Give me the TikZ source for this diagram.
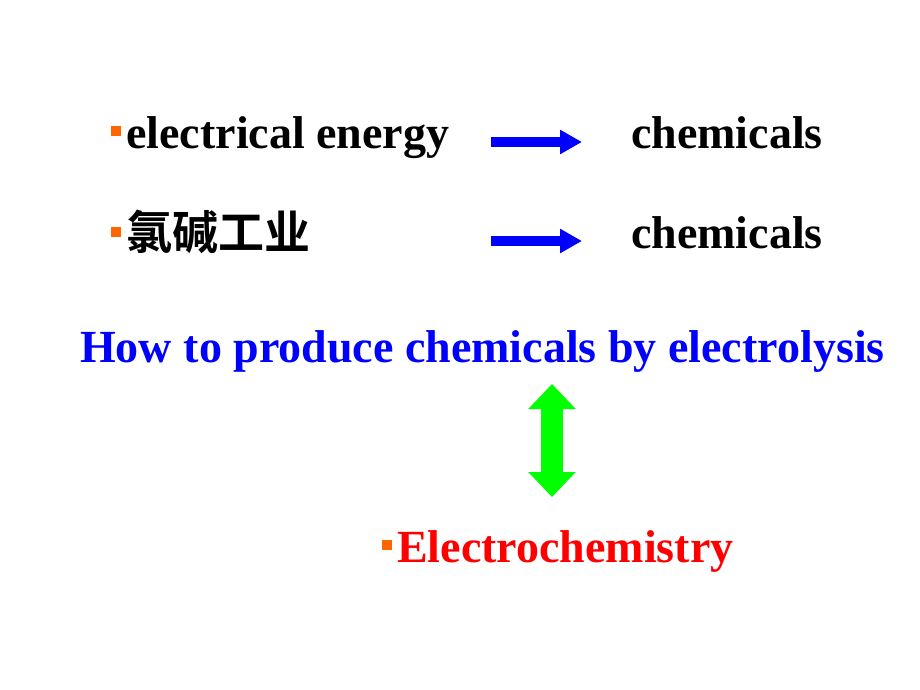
\documentclass[tikz,border=0pt]{standalone}
\usepackage{fontspec}
\usepackage{xcolor}
\usepackage{tikz}
\usetikzlibrary{arrows.meta}
\setmainfont{Liberation Serif}
\newfontfamily\cjk{Noto Sans CJK SC}[BoldFont={Noto Sans CJK SC Bold}]

\definecolor{bulletorange}{RGB}{255,102,0}
\definecolor{arrowblue}{RGB}{0,0,255}
\definecolor{arrowgreen}{RGB}{0,255,0}
\definecolor{headblue}{RGB}{0,0,255}
\definecolor{termred}{RGB}{255,0,0}

\newcommand{\sqbullet}{\textcolor{bulletorange}{\rule[12pt]{10pt}{10pt}}\hspace{5pt}}

\tikzset{
  txt/.style={inner sep=0pt, anchor=base west, font=\fontsize{46}{50}\selectfont\bfseries},
  flow/.style={arrowblue, line width=10pt, -{Triangle[length=22pt,width=23pt]}},
  link/.style={arrowgreen, line width=22pt, {Triangle[length=25pt,width=46pt]}-{Triangle[length=25pt,width=46pt]}}
}

\begin{document}
\begin{tikzpicture}[x=1pt,y=-1pt]
        \useasboundingbox (0,0) rectangle (920,690);

        % First line: energy to chemicals
        \node[txt] (energy) at (111,148) {\sqbullet electrical energy};
        \node[txt] (chem1) at (631,148) {chemicals};
        \coordinate (a1s) at (491,142);
        \coordinate (a1e) at (582,142);
        \draw[flow] (a1s) -- (a1e);

        % Second line: chlor-alkali to chemicals
        \node[txt] (chlor) at (111,249) {\sqbullet{\cjk\fontsize{46}{50}\selectfont 氯碱工业}};
        \node[txt] (chem2) at (631,248) {chemicals};
        \coordinate (a2s) at (491,241);
        \coordinate (a2e) at (582,241);
        \draw[flow] (a2s) -- (a2e);

        % The question in blue
        \node[txt, text=headblue] (question) at (80,362) {How to produce chemicals by electrolysis};

        % Green double arrow down to the answer
        \coordinate (gtop) at (552,384);
        \coordinate (gbot) at (552,497);
        \draw[link] (gtop) -- (gbot);

        % The answer in red
        \node[txt, text=termred] (answer) at (382,562) {\sqbullet Electrochemistry};
    \end{tikzpicture}
\end{document}
